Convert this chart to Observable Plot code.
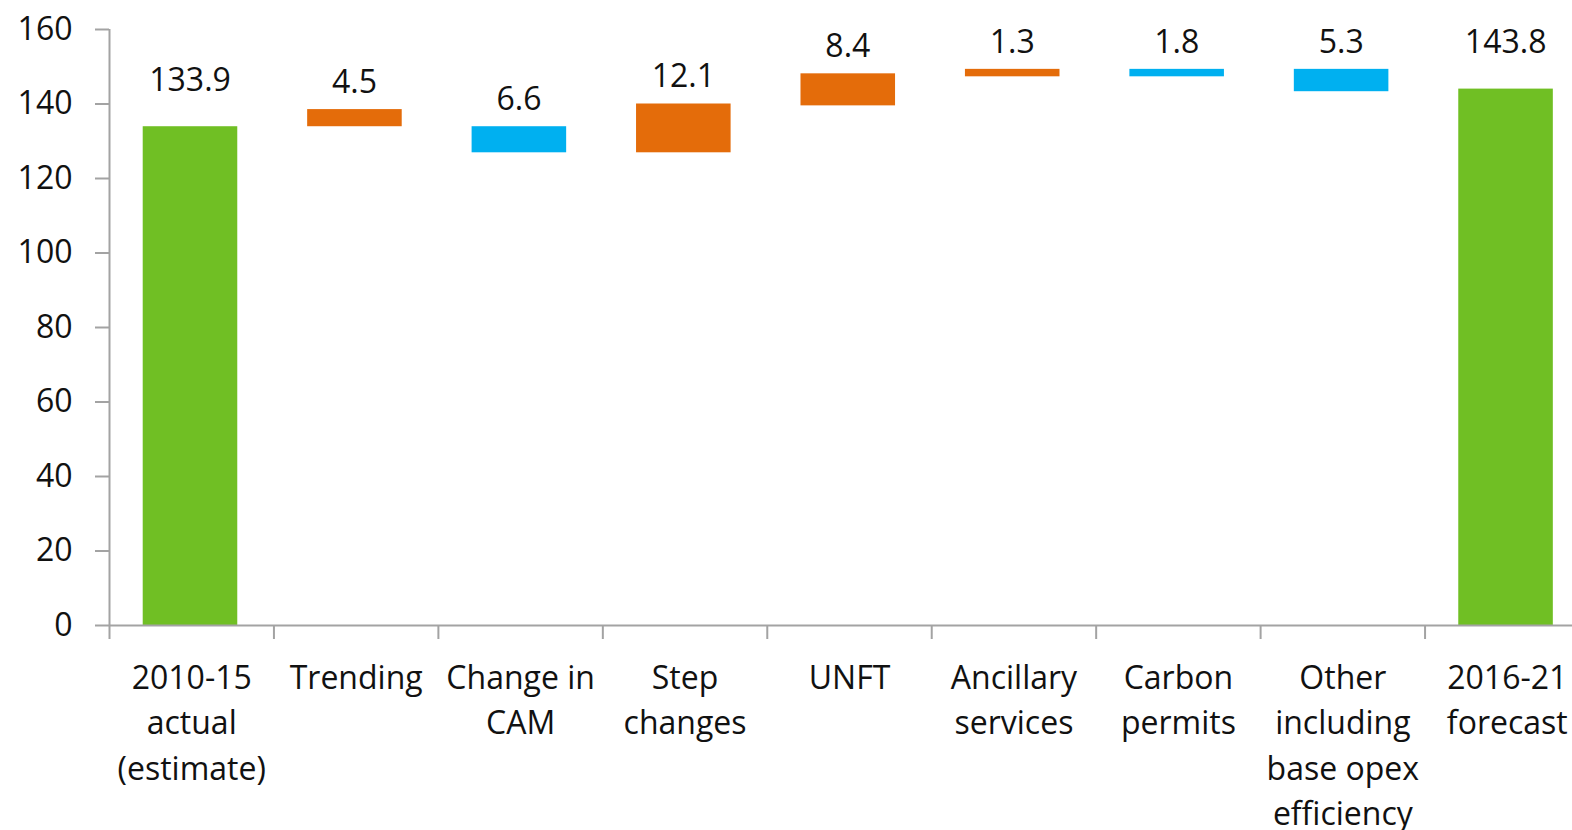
<!DOCTYPE html>
<html>
<head>
<meta charset="utf-8">
<script src="https://cdn.jsdelivr.net/npm/d3@7"></script>
<script src="https://cdn.jsdelivr.net/npm/@observablehq/plot@0.6"></script>
<style>
  html, body { margin: 0; padding: 0; background: white; overflow: hidden; }
  #chart svg { display: block; }
  g[aria-label^="y-axis"] line, g[aria-label="y-axis tick"], g[aria-label="y-axis tick"] path,
  g[aria-label^="x-axis"] line, g[aria-label="x-axis tick"], g[aria-label="x-axis tick"] path {
    stroke: #a3a3a3; stroke-width: 2px;
  }
</style>
</head>
<body>
<div id="chart"></div>
<script>
// Categories (x axis, multi-line)
const categories = [
  "2010-15\nactual\n(estimate)",
  "Trending",
  "Change in\nCAM",
  "Step\nchanges",
  "UNFT",
  "Ancillary\nservices",
  "Carbon\npermits",
  "Other\nincluding\nbase opex\nefficiency",
  "2016-21\nforecast"
];
// Bar start / end values
const barStart = [0, 133.9, 133.9, 126.9, 139.5, 147.3, 149.3, 149.3, 0];
const barEnd   = [133.9, 138.5, 126.9, 140.0, 148.1, 149.3, 147.3, 143.3, 144.0];
// Data labels
const valueLabels = ["133.9", "4.5", "6.6", "12.1", "8.4", "1.3", "1.8", "5.3", "143.8"];
// Bar type
const barType = ["total", "increase", "decrease", "increase", "increase", "increase", "decrease", "decrease", "total"];
// Y tick labels
const yTicks = [0, 20, 40, 60, 80, 100, 120, 140, 160];

const rows = categories.map((c, i) => ({
  i, category: c, start: barStart[i], end: barEnd[i],
  top: Math.max(barStart[i], barEnd[i]), label: valueLabels[i], type: barType[i]
}));
const colors = { total: "#70bf24", increase: "#e46c0a", decrease: "#00b0f0" };
const tickPositions = d3.range(0, categories.length);

const chart = Plot.plot({
  width: 1572,
  height: 830,
  marginLeft: 109,
  marginRight: -17,
  marginTop: 29,
  marginBottom: 205,
  style: { fontFamily: "'Open Sans', sans-serif", fontSize: "32px", color: "#111", background: "white" },
  x: { domain: [0, categories.length], ticks: tickPositions, tickSize: 14, tickFormat: () => "", label: null },
  y: { domain: [0, 160], ticks: yTicks, tickSize: 14, tickPadding: 23, label: null },
  marks: [
    Plot.rect(rows, {
      x1: d => d.i + 0.205, x2: d => d.i + 0.78,
      y1: "start", y2: "end",
      fill: d => colors[d.type]
    }),
    Plot.ruleX([0], { y1: 0, y2: 160, stroke: "#a3a3a3", strokeWidth: 2 }),
    Plot.ruleY([0], { stroke: "#a3a3a3", strokeWidth: 2 }),
    Plot.text(rows.filter(d => d.type !== "total"), {
      x: d => d.i + 0.49, y: "top", text: "label", dy: -27, fill: "#111", fontSize: 32
    }),
    Plot.text(rows.filter(d => d.type === "total"), {
      x: d => d.i + 0.49, y: "top", text: "label", dy: -46, fill: "#111", fontSize: 32
    }),
    Plot.text(rows, {
      x: d => d.i + 0.5, y: () => 0, text: "category",
      lineAnchor: "top", lineHeight: 1.42, dy: 31, fill: "#111", fontSize: 32
    })
  ]
});
document.getElementById("chart").appendChild(chart);
</script>
</body>
</html>
